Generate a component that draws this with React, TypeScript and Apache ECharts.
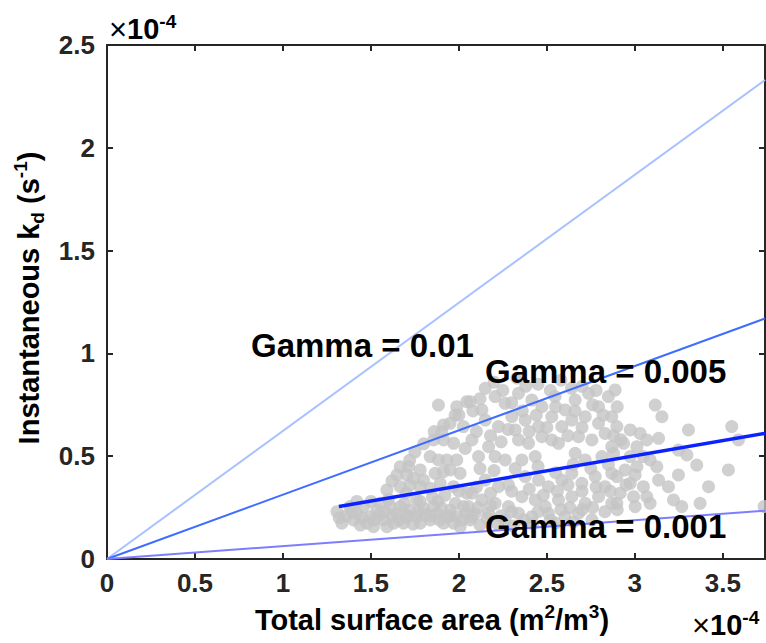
import React, { useEffect, useRef } from "react";
import * as echarts from "echarts";

// Values are in units of 1e-4 (matching the axis multipliers)
const X_MIN = 0;
const X_MAX = 3.74;
const Y_MIN = 0;
const Y_MAX = 2.5;
const TICK_STEP = 0.5;

const gammaHighLine: number[][] = [[0, 0], [3.74, 2.33]];   // Gamma = 0.01
const gammaMidLine: number[][] = [[0, 0], [3.74, 1.17]];    // Gamma = 0.005
const gammaLowLine: number[][] = [[0, 0], [3.74, 0.235]];   // Gamma = 0.001
const fitLine: number[][] = [[1.318, 0.255], [3.74, 0.611]];

const gammaLabels = ["Gamma = 0.01", "Gamma = 0.005", "Gamma = 0.001"];

const samplePoints: number[][] = [
  [1.884, 0.749], [1.988, 0.741], [2.045, 0.765], [1.979, 0.7], [1.913, 0.652], [1.903, 0.619], [2.026, 0.644],
  [1.856, 0.579], [1.913, 0.579], [1.97, 0.563], [2.036, 0.538],
  [1.667, 0.449], [1.714, 0.449], [1.78, 0.433], [1.837, 0.498], [1.884, 0.482], [1.932, 0.482], [1.988, 0.482],
  [1.648, 0.409], [1.704, 0.409], [1.742, 0.392], [1.799, 0.384], [1.865, 0.417], [1.913, 0.425], [1.951, 0.433], [2.007, 0.417],
  [1.591, 0.336], [1.667, 0.352], [1.723, 0.36], [1.78, 0.352], [1.837, 0.344], [1.894, 0.368], [1.97, 0.352], [2.045, 0.32],
  [1.307, 0.23], [1.335, 0.174], [1.382, 0.255], [1.42, 0.222], [1.458, 0.255], [1.496, 0.206], [1.534, 0.238], [1.572, 0.19],
  [1.61, 0.255], [1.648, 0.222], [1.685, 0.174], [1.723, 0.238], [1.761, 0.206], [1.799, 0.247], [1.837, 0.19], [1.875, 0.222],
  [1.913, 0.174], [1.951, 0.238], [1.988, 0.206], [2.026, 0.255], [2.064, 0.19],
  [1.401, 0.19], [1.477, 0.174], [1.553, 0.271], [1.629, 0.174], [1.704, 0.206], [1.78, 0.174], [1.856, 0.255], [1.932, 0.206],
  [2.007, 0.157], [1.515, 0.157], [1.591, 0.157], [1.667, 0.255],
  [1.36, 0.21], [1.44, 0.165], [1.55, 0.215], [1.62, 0.205], [1.74, 0.17], [1.81, 0.215], [1.9, 0.25], [1.97, 0.175], [2.04, 0.225],
  [2.064, 0.765], [2.131, 0.725], [2.206, 0.79], [2.263, 0.757], [2.339, 0.806], [2.415, 0.773], [2.472, 0.741], [2.547, 0.79],
  [2.604, 0.725], [2.661, 0.773], [2.737, 0.806], [2.794, 0.741], [2.85, 0.79],
  [2.15, 0.676], [2.225, 0.644], [2.301, 0.692], [2.377, 0.676], [2.453, 0.644], [2.528, 0.692], [2.585, 0.644], [2.642, 0.676],
  [2.718, 0.692], [2.794, 0.66], [2.869, 0.692],
  [2.074, 0.579], [2.169, 0.546], [2.32, 0.628], [2.339, 0.579], [2.396, 0.563], [2.472, 0.595], [2.528, 0.579], [2.566, 0.563],
  [2.68, 0.595], [2.756, 0.579], [2.831, 0.611], [2.869, 0.546],
  [2.112, 0.498], [2.206, 0.498], [2.263, 0.482], [2.358, 0.482], [2.434, 0.498], [2.661, 0.514], [2.718, 0.482], [2.813, 0.498],
  [2.074, 0.32], [2.15, 0.384], [2.225, 0.352], [2.282, 0.36], [2.377, 0.401], [2.453, 0.384], [2.509, 0.352], [2.585, 0.384],
  [2.642, 0.417], [2.699, 0.368], [2.775, 0.401], [2.831, 0.352], [2.869, 0.417],
  [2.055, 0.255], [2.131, 0.287], [2.206, 0.271], [2.282, 0.255], [2.358, 0.303], [2.434, 0.287], [2.491, 0.255], [2.566, 0.287],
  [2.642, 0.303], [2.718, 0.271], [2.794, 0.303], [2.869, 0.271],
  [2.074, 0.206], [2.169, 0.222], [2.263, 0.19], [2.339, 0.222], [2.415, 0.206], [2.509, 0.222], [2.604, 0.206], [2.68, 0.222], [2.756, 0.19],
  [2.2, 0.86], [2.33, 0.88], [2.45, 0.85], [2.58, 0.87], [2.7, 0.84], [2.15, 0.83],
  [2.12, 0.165], [2.22, 0.17], [2.31, 0.16], [2.42, 0.172], [2.55, 0.175], [2.65, 0.18],
  [2.888, 0.822], [3.116, 0.749], [3.154, 0.692], [3.305, 0.628], [3.551, 0.644], [3.589, 0.579], [3.135, 0.587],
  [2.898, 0.644], [2.974, 0.628], [3.03, 0.611], [3.068, 0.579], [2.936, 0.563], [3.012, 0.546], [2.879, 0.514], [2.974, 0.498],
  [3.049, 0.498], [3.087, 0.482],
  [3.248, 0.53], [3.296, 0.506], [3.352, 0.457], [3.532, 0.433], [2.945, 0.433], [3.012, 0.449], [3.125, 0.449],
  [3.002, 0.409], [2.898, 0.401], [2.974, 0.368], [3.135, 0.384], [3.248, 0.409], [3.191, 0.352], [3.049, 0.352], [2.917, 0.32],
  [2.993, 0.303], [3.068, 0.303], [2.898, 0.271], [3.087, 0.271], [3.002, 0.255], [3.22, 0.287], [3.267, 0.255], [3.371, 0.271],
  [3.419, 0.352], [3.735, 0.255],
  // denser fill of the upper cloud
  [1.75, 0.52], [1.8, 0.56], [1.86, 0.62], [1.95, 0.66], [2.0, 0.7], [2.08, 0.72], [2.1, 0.62], [2.18, 0.6], [2.24, 0.57],
  [2.28, 0.63], [2.36, 0.72], [2.4, 0.62], [2.44, 0.7], [2.5, 0.64], [2.55, 0.74], [2.62, 0.6], [2.66, 0.72], [2.7, 0.64],
  [2.76, 0.75], [2.82, 0.7], [2.88, 0.6], [2.92, 0.58], [2.25, 0.82], [2.38, 0.84], [2.52, 0.82], [2.64, 0.83], [2.78, 0.82],
  [2.12, 0.78], [2.3, 0.76], [2.9, 0.74],
  // middle band
  [1.7, 0.32], [1.76, 0.29], [1.85, 0.3], [1.92, 0.31], [2.0, 0.33], [2.1, 0.35], [2.18, 0.32], [2.3, 0.33], [2.4, 0.34],
  [2.48, 0.31], [2.56, 0.33], [2.62, 0.36], [2.7, 0.33], [2.78, 0.35], [2.86, 0.33], [2.95, 0.36], [2.2, 0.43], [2.32, 0.44],
  [2.45, 0.45], [2.55, 0.42], [2.65, 0.46], [2.75, 0.44], [2.85, 0.46], [2.12, 0.44], [1.72, 0.48], [1.62, 0.38],
  // bottom band
  [1.32, 0.2], [1.39, 0.23], [1.45, 0.2], [1.52, 0.19], [1.58, 0.23], [1.66, 0.19], [1.71, 0.21], [1.77, 0.23], [1.84, 0.21],
  [1.89, 0.19], [1.95, 0.21], [2.02, 0.19], [2.09, 0.22], [2.16, 0.2], [2.24, 0.21], [2.3, 0.23], [2.37, 0.19], [2.45, 0.23],
  [2.52, 0.19], [2.58, 0.24], [2.63, 0.25], [2.7, 0.24], [2.76, 0.25], [2.83, 0.23], [2.9, 0.24], [1.42, 0.28], [1.5, 0.28],
  [1.6, 0.29], [1.69, 0.27], [1.78, 0.28], [1.88, 0.28], [1.98, 0.27], [2.11, 0.25], [2.18, 0.26],
];

const FONT = "'Liberation Sans', Arial, Helvetica, sans-serif";
const AXIS_COLOR = "#262626";

export default function App() {
  const ref = useRef<HTMLDivElement>(null);

  useEffect(() => {
    if (!ref.current) return;
    const chart = echarts.init(ref.current, undefined, { renderer: "svg" });

    const tickLabel = {
      show: true,
      fontFamily: FONT,
      fontSize: 26,
      fontWeight: "bold" as const,
      color: AXIS_COLOR,
      formatter: (v: number) => String(+v.toFixed(2)),
    };
    const axisLine = { show: true, onZero: false, lineStyle: { color: AXIS_COLOR, width: 2 } };
    const axisTick = { show: true, inside: true, length: 6, lineStyle: { color: AXIS_COLOR, width: 2 } };

    const multRich = {
      x: { fontFamily: FONT, fontSize: 31, fontWeight: "normal" as const, color: AXIS_COLOR, lineHeight: 34, verticalAlign: "middle" as const },
      b: { fontFamily: FONT, fontSize: 29, fontWeight: "bold" as const, color: AXIS_COLOR, lineHeight: 34, verticalAlign: "middle" as const },
      s: { fontFamily: FONT, fontSize: 19, fontWeight: "bold" as const, color: AXIS_COLOR, lineHeight: 17, verticalAlign: "top" as const },
    };

    const titleRich = {
      n: { fontFamily: FONT, fontSize: 29, fontWeight: "bold" as const, color: AXIS_COLOR, lineHeight: 36, verticalAlign: "middle" as const },
      sup: { fontFamily: FONT, fontSize: 19, fontWeight: "bold" as const, color: AXIS_COLOR, lineHeight: 18, verticalAlign: "top" as const },
      sub: { fontFamily: FONT, fontSize: 19, fontWeight: "bold" as const, color: AXIS_COLOR, lineHeight: 20, verticalAlign: "bottom" as const },
    };

    const gammaStyle = (text: string) => ({
      text,
      fontFamily: FONT,
      fontSize: 33,
      fontWeight: "bold",
      fill: "#000000",
      align: "left",
      verticalAlign: "middle",
    });

    chart.setOption({
      animation: false,
      backgroundColor: "#ffffff",
      grid: { left: 107, right: 1, top: 45, bottom: 84, containLabel: false },
      xAxis: [
        {
          type: "value", position: "bottom", min: X_MIN, max: X_MAX, interval: TICK_STEP,
          axisLine, axisTick, axisLabel: { ...tickLabel, margin: 11, showMaxLabel: false }, splitLine: { show: false },
        },
        {
          type: "value", position: "top", min: X_MIN, max: X_MAX, interval: TICK_STEP,
          axisLine, axisTick, axisLabel: { show: false }, splitLine: { show: false },
        },
      ],
      yAxis: [
        {
          type: "value", position: "left", min: Y_MIN, max: Y_MAX, interval: TICK_STEP,
          axisLine, axisTick, axisLabel: { ...tickLabel, margin: 12 }, splitLine: { show: false },
        },
        {
          type: "value", position: "right", min: Y_MIN, max: Y_MAX, interval: TICK_STEP,
          axisLine, axisTick, axisLabel: { show: false }, splitLine: { show: false },
        },
      ],
      series: [
        {
          type: "scatter", xAxisIndex: 0, yAxisIndex: 0, data: samplePoints, symbol: "circle", symbolSize: 13,
          itemStyle: { color: "#c4c4c4" }, z: 1, silent: true,
        },
        {
          type: "line", data: gammaHighLine, showSymbol: false, symbol: "none",
          lineStyle: { color: "#a9c2ff", width: 2 }, z: 3, silent: true,
        },
        {
          type: "line", data: gammaMidLine, showSymbol: false, symbol: "none",
          lineStyle: { color: "#3f6dff", width: 2 }, z: 3, silent: true,
        },
        {
          type: "line", data: gammaLowLine, showSymbol: false, symbol: "none",
          lineStyle: { color: "#7d7dff", width: 2 }, z: 3, silent: true,
        },
        {
          type: "line", data: fitLine, showSymbol: false, symbol: "none",
          lineStyle: { color: "#0a22ff", width: 3.5 }, z: 4, silent: true,
        },
      ],
      graphic: [
        { type: "text", left: 251, top: 348 - 19, z: 10, style: gammaStyle(gammaLabels[0]) },
        { type: "text", left: 485, top: 374 - 19, z: 10, style: gammaStyle(gammaLabels[1]) },
        { type: "text", left: 485, top: 529 - 19, z: 10, style: gammaStyle(gammaLabels[2]) },
        {
          type: "text", x: 109, y: 29, z: 10,
          style: { text: "{x|×}{b|10}{s|-4}", rich: multRich, align: "left", verticalAlign: "middle" },
        },
        {
          type: "text", x: 692, y: 625, z: 10,
          style: { text: "{x|×}{b|10}{s|-4}", rich: multRich, align: "left", verticalAlign: "middle" },
        },
        {
          type: "text", x: 432, y: 620, z: 10,
          style: {
            text: "{n|Total surface area (m}{sup|2}{n|/m}{sup|3}{n|)}",
            rich: titleRich, align: "center", verticalAlign: "middle",
          },
        },
        {
          type: "text", x: 29, y: 298, rotation: Math.PI / 2, z: 10,
          style: {
            text: "{n|Instantaneous k}{sub|d}{n| (s}{sup|-1}{n|)}",
            rich: titleRich, align: "center", verticalAlign: "middle",
          },
        },
      ],
    });

    return () => chart.dispose();
  }, []);

  return (
    <div
      ref={ref}
      style={{ position: "absolute", left: 0, top: 0, width: 766, height: 643, background: "#fff" }}
    />
  );
}
